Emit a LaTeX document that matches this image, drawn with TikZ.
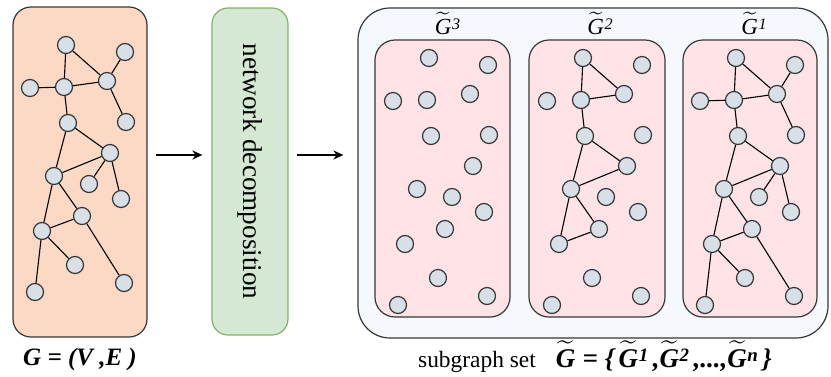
\documentclass[tikz,border=0pt]{standalone}
\usepackage{amsmath}
\usepackage{graphicx}
\usepackage{fontspec}
\setmainfont{Liberation Serif}
\usepackage{tikz}
\usetikzlibrary{arrows.meta, positioning}
\definecolor{peach}{RGB}{252,217,196}
\definecolor{softgreen}{RGB}{213,232,212}
\definecolor{greenline}{RGB}{130,179,102}
\definecolor{paleblue}{RGB}{245,248,252}
\definecolor{softpink}{RGB}{255,227,231}
\definecolor{vertfill}{RGB}{214,224,230}
\definecolor{darkline}{RGB}{55,55,55}
\newcommand{\tilG}[1]{$\widetilde{\textit{G}}$\kern0.3pt\raisebox{0.22em}{\scalebox{0.7}{\itshape #1}}}

\begin{document}
\begin{tikzpicture}[
  x=0.5pt, y=-0.5pt,
  box/.style={rectangle, rounded corners=9pt, draw=darkline, line width=0.6pt, inner sep=0pt},
  subbox/.style={box, fill=softpink, rounded corners=10pt, minimum height=138.5pt},
  vert/.style={circle, draw=darkline, fill=vertfill, line width=0.6pt, minimum size=8.5pt, inner sep=0pt},
  link/.style={line width=0.55pt},
  arrow/.style={-{Stealth[length=5pt, width=4.5pt]}, line width=1pt},
  lab/.style={font=\fontsize{11.5}{13}\selectfont, inner sep=0pt}
]
\useasboundingbox (0,0) rectangle (831,376);

% boxes
\node[box, fill=peach, minimum width=67pt, minimum height=165pt] (graph) at (80,172) {};
\node[box, draw=greenline, fill=softgreen, rounded corners=8pt, minimum width=38pt, minimum height=163.5pt,
      font=\fontsize{13.6}{16}\selectfont] (decomp) at (250,171.5) {\rotatebox{-90}{network decomposition}};
\node[box, fill=paleblue, rounded corners=16pt, minimum width=235pt, minimum height=165pt] (subgraphs) at (593,173) {};
\node[subbox, minimum width=67.5pt] (box3) at (442.5,178.5) {};
\node[subbox, minimum width=68pt] (box2) at (597,178.5) {};
\node[subbox, minimum width=67pt] (box1) at (750,178.5) {};

% vertices: same layout in every box
\def\vertpos{1/66/45, 2/125/52, 3/30/88, 4/64/87, 5/107/81, 6/126/122, 7/68/123, 8/110/153,
  9/54/176, 10/89/184, 11/121/199, 12/82/216, 13/42/231, 14/75/265, 15/124/283, 16/35/292}
\def\alllinks{1/4, 1/5, 5/2, 3/4, 4/5, 5/6, 4/7, 7/8, 7/9, 8/9, 8/10, 8/11, 9/12, 9/13, 12/13, 12/15, 13/14, 13/16}
\def\somelinks{1/4, 1/5, 4/5, 4/7, 7/8, 7/9, 8/9, 9/12, 9/13, 12/13}

\foreach \g/\dx/\dy in {g/0/0, s3/363/13, s2/517/13, s1/670/13}
  \foreach \n/\x/\y in \vertpos
    \node[vert] (\g-\n) at (\x+\dx,\y+\dy) {};

\foreach \g in {g, s1}
  \foreach \u/\v in \alllinks
    \draw[link] (\g-\u) -- (\g-\v);
\foreach \u/\v in \somelinks
  \draw[link] (s2-\u) -- (s2-\v);

% arrows
\draw[arrow, shorten <=4pt, shorten >=4.5pt] ([yshift=8.5pt]graph.east) -- ([yshift=8.25pt]decomp.west);
\draw[arrow, shorten <=4pt, shorten >=7pt] ([yshift=8.25pt]decomp.east) -- ([yshift=9pt]subgraphs.west);

% labels
\node[lab, above=2pt of box3, xshift=2.5pt] (lab3) {\tilG{3}};
\node[lab, above=2pt of box2, xshift=1.5pt] (lab2) {\tilG{2}};
\node[lab, above=2pt of box1, xshift=2pt] (lab1) {\tilG{1}};
\node[lab, below=5pt of graph, font=\fontsize{12.5}{14}\selectfont\bfseries\itshape] (glab) {G = (V ,E )};
\node[lab, below=1pt of subgraphs, xshift=1pt, font=\fontsize{11.7}{13}\selectfont] (slab)
  {subgraph set\hspace{10pt}{\fontsize{13.5}{14}\selectfont\bfseries\itshape
   \tilG{} = \{\,\tilG{1}\,,\tilG{2}\,,...,\tilG{n}\,\}}};
\end{tikzpicture}
\end{document}
